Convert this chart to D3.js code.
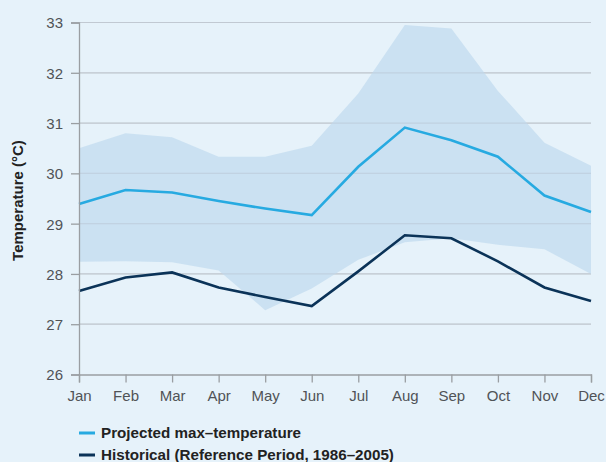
<!DOCTYPE html>
<html>
<head>
<meta charset="utf-8">
<script src="https://cdn.jsdelivr.net/npm/d3@7"></script>
<style>
  html, body { margin: 0; padding: 0; background: #e6f2fa; }
  svg { display: block; font-family: "Liberation Sans", Arial, Helvetica, sans-serif; }
</style>
</head>
<body>
<svg id="chart" width="606" height="462"></svg>
<script>
// Monthly maximum temperature (°C)
const months = ["Jan", "Feb", "Mar", "Apr", "May", "Jun", "Jul", "Aug", "Sep", "Oct", "Nov", "Dec"];
const projected = [29.39, 29.67, 29.62, 29.45, 29.30, 29.17, 30.13, 30.91, 30.66, 30.33, 29.56, 29.23];
const historical = [27.66, 27.93, 28.03, 27.73, 27.54, 27.36, 28.05, 28.77, 28.71, 28.25, 27.73, 27.46];
const rangeUpper = [30.50, 30.80, 30.72, 30.33, 30.33, 30.55, 31.59, 32.95, 32.88, 31.64, 30.61, 30.15];
const rangeLower = [28.24, 28.25, 28.23, 28.07, 27.28, 27.71, 28.28, 28.63, 28.71, 28.58, 28.49, 28.00];
const yTicks = [26, 27, 28, 29, 30, 31, 32, 33];
const legendLabels = ["Projected max\u2013temperature", "Historical (Reference Period, 1986\u20132005)"];

const svg = d3.select("#chart");
const W = 606, H = 462;
const m = { left: 79, right: 15, top: 22.5, bottom: 87.5 };

const x = d3.scalePoint().domain(months).range([m.left, W - m.right]);
const y = d3.scaleLinear().domain([26, 33]).range([H - m.bottom, m.top]);

const colors = { band: "#c8dff1", projected: "#27aae1", historical: "#0b3358" };

// horizontal gridlines
svg.append("g")
  .selectAll("line")
  .data(yTicks.slice(1))
  .join("line")
  .attr("x1", m.left).attr("x2", W - m.right)
  .attr("y1", d => y(d)).attr("y2", d => y(d))
  .attr("stroke", "#c9cdd1").attr("stroke-width", 1.2);

// projected range band
const rows = months.map((mo, i) => ({ mo, lo: rangeLower[i], hi: rangeUpper[i] }));
svg.append("path")
  .datum(rows)
  .attr("fill", colors.band)
  .attr("fill-opacity", 0.9)
  .attr("d", d3.area().x(d => x(d.mo)).y0(d => y(d.lo)).y1(d => y(d.hi)));

// redraw gridlines faintly over the band
svg.append("g")
  .selectAll("line")
  .data(yTicks.slice(1))
  .join("line")
  .attr("x1", m.left).attr("x2", W - m.right)
  .attr("y1", d => y(d)).attr("y2", d => y(d))
  .attr("stroke", "#b7c6d2").attr("stroke-opacity", 0.45).attr("stroke-width", 1.2);

const line = d3.line().x((d, i) => x(months[i])).y(d => y(d));

svg.append("path").datum(historical)
  .attr("fill", "none").attr("stroke", colors.historical)
  .attr("stroke-width", 2.6).attr("stroke-linejoin", "miter")
  .attr("d", line);

svg.append("path").datum(projected)
  .attr("fill", "none").attr("stroke", colors.projected)
  .attr("stroke-width", 2.6).attr("stroke-linejoin", "miter")
  .attr("d", line);

// axes
const yAxis = svg.append("g")
  .attr("transform", `translate(${m.left},0)`)
  .call(d3.axisLeft(y).tickValues(yTicks).tickFormat(d3.format("d")).tickSize(8).tickPadding(8));
const xAxis = svg.append("g")
  .attr("transform", `translate(0,${H - m.bottom})`)
  .call(d3.axisBottom(x).tickSize(8).tickPadding(8));

[yAxis, xAxis].forEach(g => {
  g.select(".domain").attr("stroke", "#9a9ea2").attr("stroke-width", 1.3);
  g.selectAll(".tick line").attr("stroke", "#9a9ea2").attr("stroke-width", 1.3);
  g.selectAll(".tick text")
    .attr("fill", "#505357")
    .style("font-size", "15px")
    .style("font-family", "'Liberation Sans', Arial, sans-serif");
});
yAxis.selectAll(".tick text").attr("dy", "0.36em");

// y-axis title
svg.append("text")
  .attr("transform", `translate(23,${(y(26) + y(33)) / 2 + 2}) rotate(-90)`)
  .attr("text-anchor", "middle")
  .attr("fill", "#222")
  .style("font-size", "15px")
  .style("font-weight", "bold")
  .text("Temperature (\u00B0C)");

// legend
const legend = svg.append("g");
[colors.projected, colors.historical].forEach((c, i) => {
  const ly = 433 + i * 22;
  legend.append("line")
    .attr("x1", 79).attr("x2", 95).attr("y1", ly).attr("y2", ly)
    .attr("stroke", c).attr("stroke-width", 3);
  legend.append("text")
    .attr("x", 101).attr("y", ly).attr("dy", "0.35em")
    .attr("fill", "#222")
    .style("font-size", "15.2px")
    .style("font-weight", "bold")
    .text(legendLabels[i]);
});
</script>
</body>
</html>
